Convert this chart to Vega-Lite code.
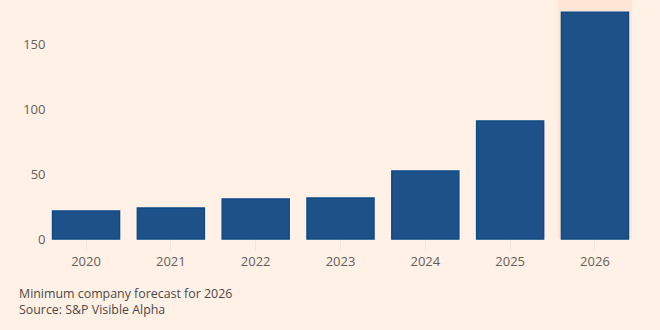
{
  "$schema": "https://vega.github.io/schema/vega-lite/v6.json",
  "autosize": "none",
  "width": 581,
  "height": 239,
  "padding": {"left": 50, "top": 0, "right": 29, "bottom": 91},
  "background": "#fff1e5",
  "config": {
    "view": {"stroke": null},
    "font": "Open Sans",
    "axis": {"labelFont": "Open Sans", "labelColor": "#66605c", "labelFontSize": 13}
  },
  "title": {
    "text": ["Minimum company forecast for 2026", "Source: S&P Visible Alpha"],
    "orient": "bottom",
    "anchor": "start",
    "frame": "group",
    "dx": -31,
    "offset": 20,
    "fontSize": 12.4,
    "fontWeight": "normal",
    "color": "#4d4845",
    "font": "Open Sans",
    "lineHeight": 15.5
  },
  "data": {
    "values": [
      {"year": "2020", "value": 21.5},
      {"year": "2021", "value": 23.8},
      {"year": "2022", "value": 30.8},
      {"year": "2023", "value": 31.5},
      {"year": "2024", "value": 52.3},
      {"year": "2025", "value": 90.8},
      {"year": "2026", "value": 174.6}
    ]
  },
  "encoding": {
    "x": {
      "field": "year",
      "type": "ordinal",
      "scale": {"paddingInner": 0.21, "paddingOuter": 0.03},
      "axis": {
        "title": null,
        "labelAngle": 0,
        "domain": false,
        "grid": false,
        "ticks": true,
        "tickColor": "#f7e4d6",
        "tickSize": 11,
        "labelPadding": 5
      }
    }
  },
  "layer": [
    {
      "transform": [{"filter": "datum.year == '2026'"}],
      "mark": {"type": "bar", "color": "#fde6d6", "size": 74},
      "encoding": {"y": {"datum": 184, "type": "quantitative"}}
    },
    {
      "mark": {"type": "bar", "color": "#1f5189", "stroke": "#0d4a86", "strokeWidth": 1.5},
      "encoding": {
        "y": {
          "field": "value",
          "type": "quantitative",
          "scale": {"domain": [0, 184], "nice": false},
          "axis": {
            "title": null,
            "values": [0, 50, 100, 150],
            "domain": false,
            "ticks": false,
            "labelPadding": 5,
            "gridColor": "#fbf6f1",
            "gridWidth": 1
          }
        }
      }
    }
  ]
}
